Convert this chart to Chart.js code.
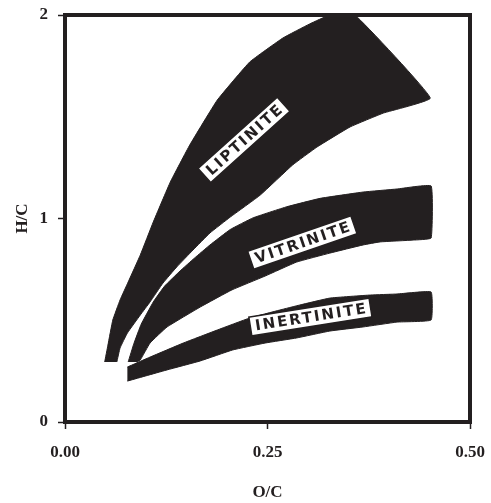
<!DOCTYPE html>
<html>
<head>
<meta charset="utf-8">
<script src="https://cdn.jsdelivr.net/npm/chart.js@4/dist/chart.umd.min.js"></script>
<style>
  html, body { margin: 0; padding: 0; background: #fff; }
  #wrap { width: 491px; height: 503px; position: relative; }
</style>
</head>
<body>
<div id="wrap"><canvas id="vk"></canvas></div>
<script>
// van Krevelen bands (outline points, O/C vs H/C)
const liptiniteX = [0.049, 0.053, 0.059, 0.068, 0.078, 0.093, 0.109, 0.130, 0.154, 0.188, 0.228, 0.269, 0.302, 0.327, 0.358,
  0.451, 0.393, 0.352, 0.311, 0.281, 0.241, 0.204, 0.179, 0.158, 0.138, 0.121, 0.105, 0.093, 0.077, 0.068, 0.064];
const liptiniteY = [0.295, 0.378, 0.501, 0.600, 0.688, 0.821, 0.983, 1.179, 1.361, 1.582, 1.769, 1.887, 1.956, 2.0, 2.0,
  1.592, 1.518, 1.450, 1.351, 1.263, 1.115, 1.007, 0.929, 0.845, 0.762, 0.683, 0.590, 0.526, 0.437, 0.364, 0.295];

const vitriniteX = [0.078, 0.085, 0.094, 0.109, 0.123, 0.142, 0.160, 0.179, 0.204, 0.232, 0.274, 0.315, 0.368, 0.410, 0.452,
  0.452, 0.430, 0.389, 0.368, 0.327, 0.286, 0.247, 0.206, 0.167, 0.126, 0.105, 0.093, 0.089];
const vitriniteY = [0.295, 0.385, 0.480, 0.590, 0.668, 0.742, 0.806, 0.870, 0.946, 1.003, 1.058, 1.099, 1.130, 1.145, 1.160,
  0.904, 0.894, 0.885, 0.870, 0.830, 0.786, 0.717, 0.649, 0.565, 0.467, 0.388, 0.305, 0.295];

const inertiniteX = [0.077, 0.105, 0.146, 0.188, 0.228, 0.265, 0.290, 0.327, 0.377, 0.410, 0.452,
  0.452, 0.410, 0.368, 0.327, 0.286, 0.247, 0.207, 0.167, 0.126, 0.077];
const inertiniteY = [0.270, 0.319, 0.388, 0.452, 0.511, 0.550, 0.575, 0.609, 0.624, 0.629, 0.639,
  0.501, 0.491, 0.467, 0.447, 0.413, 0.388, 0.354, 0.300, 0.256, 0.201];

const xTicks = [0, 0.25, 0.5];
const yTicks = [0, 1, 2];

const ink = '#231f20';
const toPoints = (xs, ys) => xs.map((x, i) => ({ x: x, y: ys[i] }));

function band(name, xs, ys) {
  return {
    label: name,
    data: toPoints(xs, ys),
    showLine: true,
    fill: 'shape',
    backgroundColor: ink,
    borderColor: ink,
    borderWidth: 1,
    pointRadius: 0,
    tension: 0.1
  };
}

// white name tags sitting on the bands
const tags = [
  { text: 'LIPTINITE', x: 0.221, y: 1.386, angle: -42 },
  { text: 'VITRINITE', x: 0.293, y: 0.882, angle: -19 },
  { text: 'INERTINITE', x: 0.303, y: 0.516, angle: -9 }
];

const tagPlugin = {
  id: 'tags',
  afterDatasetsDraw(chart) {
    const ctx = chart.ctx;
    const sx = chart.scales.x, sy = chart.scales.y;
    tags.forEach(t => {
      ctx.save();
      ctx.translate(sx.getPixelForValue(t.x), sy.getPixelForValue(t.y));
      ctx.rotate(t.angle * Math.PI / 180);
      ctx.font = 'bold 15px "DejaVu Sans"';
      ctx.letterSpacing = '2px';
      const w = ctx.measureText(t.text).width + 8;
      ctx.fillStyle = '#fff';
      ctx.strokeStyle = ink;
      ctx.lineWidth = 1.5;
      ctx.fillRect(-w / 2, -9.5, w, 19);
      ctx.strokeRect(-w / 2, -9.5, w, 19);
      ctx.fillStyle = ink;
      ctx.textAlign = 'center';
      ctx.textBaseline = 'middle';
      ctx.fillText(t.text, 1, 1);
      ctx.restore();
    });
  },
  afterDraw(chart) {
    const a = chart.chartArea;
    const ctx = chart.ctx;
    ctx.save();
    ctx.strokeStyle = ink;
    ctx.lineWidth = 4;
    ctx.strokeRect(a.left, a.top, a.right - a.left, a.bottom - a.top);
    ctx.restore();
  }
};

const axisFont = { family: '"Liberation Serif", "Times New Roman", serif', size: 17, weight: 'bold' };

new Chart(document.getElementById('vk').getContext('2d'), {
  type: 'scatter',
  data: {
    datasets: [
      band('Liptinite', liptiniteX, liptiniteY),
      band('Vitrinite', vitriniteX, vitriniteY),
      band('Inertinite', inertiniteX, inertiniteY)
    ]
  },
  options: {
    responsive: true,
    maintainAspectRatio: false,
    animation: false,
    layout: { padding: { left: 8, right: 21, top: 15, bottom: 0 } },
    plugins: { legend: { display: false }, tooltip: { enabled: false } },
    scales: {
      x: {
        type: 'linear',
        min: 0,
        max: 0.5,
        afterBuildTicks: s => { s.ticks = xTicks.map(v => ({ value: v })); },
        afterFit: s => { s.height = 81; s.paddingLeft = 0; s.paddingRight = 0; },
        grid: { drawOnChartArea: false, drawTicks: true, tickLength: 7, tickColor: ink, tickWidth: 1.5 },
        border: { display: false },
        ticks: { color: ink, font: axisFont, padding: 13, maxRotation: 0, callback: v => v.toFixed(2) },
        title: { display: true, text: 'O/C', color: ink, font: axisFont, padding: { top: 0, bottom: 0 } }
      },
      y: {
        type: 'linear',
        min: 0,
        max: 2,
        afterBuildTicks: s => { s.ticks = yTicks.map(v => ({ value: v })); },
        afterFit: s => { s.width = 57; s.paddingTop = 0; s.paddingBottom = 0; },
        grid: { drawOnChartArea: false, drawTicks: true, tickLength: 7, tickColor: ink, tickWidth: 1.5 },
        border: { display: false },
        ticks: { color: ink, font: axisFont, padding: 10 },
        title: { display: true, text: 'H/C', color: ink, font: axisFont, padding: { top: 4, bottom: 4 } }
      }
    }
  },
  plugins: [tagPlugin]
});
</script>
</body>
</html>
